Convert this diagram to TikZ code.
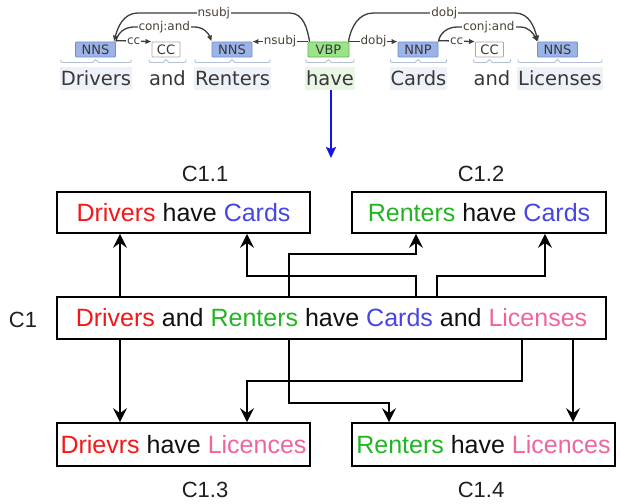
\documentclass[tikz,border=0pt]{standalone}
\usepackage{fontspec}
\setmainfont{Liberation Sans}
\newfontfamily\depfont{DejaVu Sans}
\usetikzlibrary{arrows.meta}

% sentence colours
\definecolor{cred}{HTML}{F01818}
\definecolor{cgreen}{HTML}{22B422}
\definecolor{cblue}{HTML}{4646E4}
\definecolor{cpink}{HTML}{F0649E}
\definecolor{ctext}{HTML}{111111}
% parse-tree colours
\definecolor{tagblue}{HTML}{9CB3E8}
\definecolor{tagblueedge}{HTML}{7090D0}
\definecolor{taggreen}{HTML}{9BE38A}
\definecolor{taggreenedge}{HTML}{5FB84A}
\definecolor{tagccedge}{HTML}{A8A8A8}
\definecolor{wordbg}{HTML}{EDF1F8}
\definecolor{wordbggreen}{HTML}{EAF6E5}
\definecolor{bracecol}{HTML}{B4C0D6}
\definecolor{labcol}{HTML}{4A4236}
\definecolor{deplinecol}{HTML}{3C3C3C}
\definecolor{arrowblue}{HTML}{1414E6}

% brace joining a word to its tag
\newcommand\wordbrace[2]{%
  \draw[brace] ([xshift=1pt]#1.west |- brA) .. controls ([xshift=1pt]#1.west |- brB) .. ([xshift=4pt]#1.west |- brB)
    -- ([xshift=-3pt]#2.south |- brB) -- (#2.south |- brA) -- ([xshift=3pt]#2.south |- brB)
    -- ([xshift=-4pt]#1.east |- brB) .. controls ([xshift=-1pt]#1.east |- brB) .. ([xshift=-1pt]#1.east |- brA);}

\begin{document}
\begin{tikzpicture}[x=1pt,y=-1pt,
  sentbox/.style={draw=black, line width=1.7pt, minimum height=41pt, inner sep=0pt,
    font=\fontsize{25}{30}\selectfont, text=ctext},
  flow/.style={line width=1.7pt, -{Stealth[length=14pt,width=14pt,inset=5pt]}},
  caption/.style={font=\fontsize{22}{26}\selectfont, text=black!88},
  tagbase/.style={font=\depfont\fontsize{13}{13}\selectfont, minimum height=15pt,
    inner xsep=5pt, inner ysep=0pt, rounded corners=1pt, line width=0.8pt, text=black!78},
  nntag/.style={tagbase, fill=tagblue, draw=tagblueedge, minimum width=40pt},
  vbtag/.style={tagbase, fill=taggreen, draw=taggreenedge, minimum width=41pt},
  cctag/.style={tagbase, fill=white, draw=tagccedge},
  word/.style={font=\depfont\fontsize{19.5}{20}\selectfont, text=black!78,
    text height=15pt, text depth=2pt, inner xsep=1pt, inner ysep=3pt},
  brace/.style={draw=bracecol, line width=0.9pt},
  dep/.style={draw=deplinecol, line width=1.3pt, -{Latex[length=6pt,width=5.5pt]}},
  deplab/.style={font=\depfont\fontsize{12}{12}\selectfont, text=labcol, fill=white, inner sep=1pt}
]
\path[use as bounding box] (0,0) rectangle (620,503);

% ---------------- dependency parse ----------------
\coordinate (top1) at (0,13);
\coordinate (top2) at (0,27);
\coordinate (brA) at (0,59.5);
\coordinate (brB) at (0,62.5);

\node[nntag] (t1) at (95.5,49.5) {NNS};
\node[cctag] (t2) at (166,49.5) {CC};
\node[nntag] (t3) at (232,49.5) {NNS};
\node[vbtag] (t4) at (328.5,49.5) {VBP};
\node[nntag] (t5) at (418,49.5) {NNP};
\node[cctag] (t6) at (489.5,49.5) {CC};
\node[nntag] (t7) at (557.5,49.5) {NNS};

\node[word, fill=wordbg] (w1) at (96,78.5) {Drivers};
\node[word] (w2) at (167.5,78.5) {and};
\node[word, fill=wordbg] (w3) at (232.5,78.5) {Renters};
\node[word, fill=wordbggreen] (w4) at (330,78.5) {have};
\node[word, fill=wordbg] (w5) at (418.5,78.5) {Cards};
\node[word] (w6) at (492,78.5) {and};
\node[word, fill=wordbg] (w7) at (560,78.5) {Licenses};

\wordbrace{w1}{t1}
\wordbrace{w2}{t2}
\wordbrace{w3}{t3}
\wordbrace{w4}{t4}
\wordbrace{w5}{t5}
\wordbrace{w6}{t6}
\wordbrace{w7}{t7}

% long arcs
\draw[dep] ([xshift=2pt]t4.north west) to[out=100,in=0] ([xshift=-18pt]t4.north west |- top1)
  -- node[deplab]{nsubj} ([xshift=22pt]t1.north east |- top1) to[out=180,in=75] ([xshift=-2pt]t1.north east);
\draw[dep] (t1.north east) to[out=80,in=180] ([xshift=18pt]t1.north east |- top2)
  -- node[deplab]{conj:and} ([xshift=-17pt]t3.north west |- top2) to[out=0,in=110] (t3.north west);
\draw[dep] ([xshift=-1pt]t4.north east) to[out=80,in=180] ([xshift=24pt]t4.north east |- top1)
  -- node[deplab]{dobj} ([xshift=-22pt]t7.north west |- top1) to[out=0,in=105] ([xshift=1pt]t7.north west);
\draw[dep] (t5.north east) to[out=80,in=180] ([xshift=19pt]t5.north east |- top2)
  -- node[deplab]{conj:and} ([xshift=-17pt]t7.north west |- top2) to[out=0,in=115] (t7.north west);

% short arcs
\draw[dep] ([yshift=1pt]t1.north east) -- node[deplab]{cc} (t2.north west);
\draw[dep] (t4.north west) -- node[deplab]{nsubj} (t3.north east);
\draw[dep] (t4.north east) -- node[deplab]{dobj} (t5.north west);
\draw[dep] ([yshift=1pt]t5.north east) -- node[deplab]{cc} (t6.north west);

% transition arrow
\coordinate (bstart) at (331,90);
\coordinate (btip) at (331,158);
\draw[line width=1.8pt, draw=arrowblue, -{Stealth[length=11pt,width=10pt,inset=2pt]}] (bstart) -- (btip);

% ---------------- sentence boxes ----------------
\node[sentbox, minimum width=253pt] (c11) at (183.5,212.5)
  {\textcolor{cred}{Drivers} have \textcolor{cblue}{Cards}};
\node[sentbox, minimum width=254pt] (c12) at (479,212.5)
  {\textcolor{cgreen}{Renters} have \textcolor{cblue}{Cards}};
\node[sentbox, minimum width=549pt, minimum height=42pt] (c1) at (331.5,318)
  {\textcolor{cred}{Drivers} and \textcolor{cgreen}{Renters} have \textcolor{cblue}{Cards} and \textcolor{cpink}{Licenses}};
\node[sentbox, minimum width=253pt, minimum height=43pt] (c13) at (183.5,444.5)
  {\textcolor{cred}{Drievrs} have \textcolor{cpink}{Licences}};
\node[sentbox, minimum width=263pt, minimum height=43pt] (c14) at (483.5,444.5)
  {\textcolor{cgreen}{Renters} have \textcolor{cpink}{Licences}};

\node[caption] (l11) at (205,174) {C1.1};
\node[caption] (l12) at (481,174) {C1.2};
\node[caption] (l1) at (23,320) {C1};
\node[caption] (l13) at (205,490) {C1.3};
\node[caption] (l14) at (481,490) {C1.4};

% connector columns and rails
\coordinate (xa) at (120,0);
\coordinate (xb) at (247,0);
\coordinate (xc) at (289,0);
\coordinate (xd) at (416,0);
\coordinate (xe) at (437,0);
\coordinate (xf) at (545,0);
\coordinate (xg) at (389,0);
\coordinate (xh) at (522,0);
\coordinate (xi) at (573,0);
\coordinate (h1) at (0,276);
\coordinate (h2) at (0,254);
\coordinate (h3) at (0,381);
\coordinate (h4) at (0,403);

% upward connectors
\draw[flow] (c1.north -| xa) -- (c11.south -| xa);
\draw[flow] (c1.north -| xd) |- (h1 -| xb) -- (c11.south -| xb);
\draw[flow] (c1.north -| xc) |- (h2 -| xd) -- (c12.south -| xd);
\draw[flow] (c1.north -| xe) |- (h1 -| xf) -- (c12.south -| xf);

% downward connectors
\draw[flow] (c1.south -| xa) -- (c13.north -| xa);
\draw[flow] (c1.south -| xh) |- (h3 -| xb) -- (c13.north -| xb);
\draw[flow] (c1.south -| xc) |- (h4 -| xg) -- (c14.north -| xg);
\draw[flow] (c1.south -| xi) -- (c14.north -| xi);
\end{tikzpicture}
\end{document}
